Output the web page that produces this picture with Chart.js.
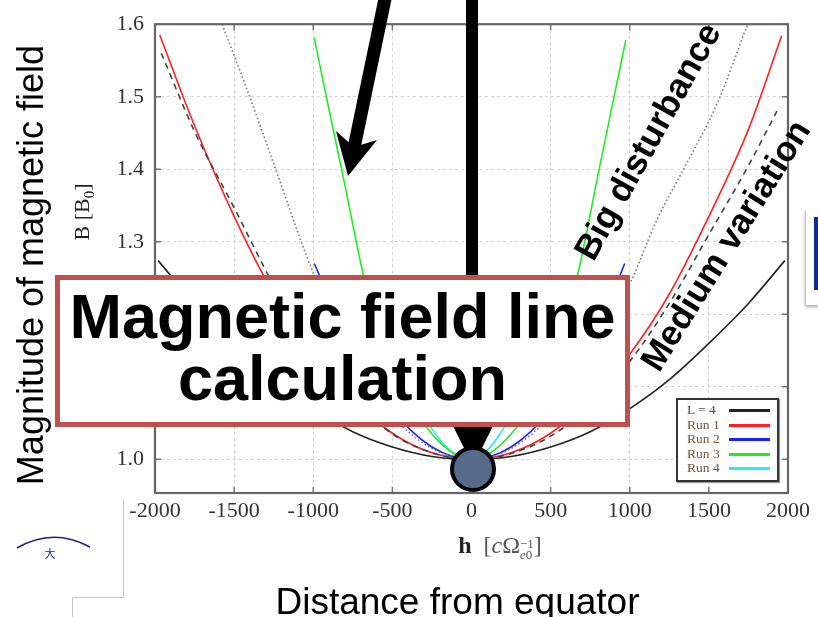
<!DOCTYPE html>
<html>
<head>
<meta charset="utf-8">
<script src="https://cdn.jsdelivr.net/npm/chart.js@4.4.1/dist/chart.umd.min.js"></script>
<style>
  body { margin: 0; background: #fff; }
  #wrap { position: relative; width: 818px; height: 617px; overflow: hidden; font-family: "Liberation Sans", Arial, sans-serif; }
  #chart { position: absolute; left: 0; top: 0; }
  svg.layer { position: absolute; left: 0; top: 0; }
  .txt { position: absolute; white-space: nowrap; line-height: 1; }
  .serif { font-family: "Liberation Serif", "Times New Roman", serif; }
  #legend { position: absolute; left: 676px; top: 398px; width: 99px; height: 80px; border: 2px solid #333;
            background: #fff; box-shadow: 1px 1px 1px #999; font-family: "Liberation Serif", serif; font-size: 13.5px; }
  #legend .row { position: absolute; left: 9px; height: 14px; width: 90px; }
  #legend .row span { position: absolute; left: 0; top: 0; line-height: 14px; }
  #legend .row i { position: absolute; left: 42px; top: 6px; width: 41px; height: 3px; }
</style>
</head>
<body>
<div id="wrap">
  <canvas id="chart" width="818" height="617"></canvas>
  <div id="legend"></div>
</div>
<script>
// field strength along the line, h in units of c/Omega_e0, B in units of B0
const hL4 = [-1980, -1750, -1500, -1250, -1000, -750, -500, -250, 0, 250, 500, 750, 1000, 1250, 1500, 1750, 1980];
const bL4 = [1.274, 1.215, 1.160, 1.110, 1.070, 1.038, 1.017, 1.004, 1.000, 1.004, 1.017, 1.038, 1.070, 1.110, 1.160, 1.215, 1.274];

const hRun1 = [-1970, -1750, -1500, -1250, -1000, -750, -500, -250, 0, 250, 500, 750, 1000, 1250, 1500, 1750, 1960];
const bRun1 = [1.585, 1.460, 1.335, 1.228, 1.145, 1.082, 1.036, 1.009, 1.000, 1.009, 1.036, 1.082, 1.145, 1.228, 1.335, 1.455, 1.584];

const hRun2 = [-994, -750, -500, -250, 0, 250, 500, 750, 968];
const bRun2 = [1.270, 1.152, 1.068, 1.017, 1.000, 1.017, 1.068, 1.152, 1.270];

const hRun3 = [-994, -900, -800, -677, -500, -250, 0, 250, 500, 665, 800, 900, 975];
const bRun3 = [1.581, 1.482, 1.378, 1.249, 1.125, 1.035, 1.000, 1.035, 1.125, 1.249, 1.393, 1.499, 1.578];

const hRun4 = [-450, -250, 0, 200, 400];
const bRun4 = [1.140, 1.042, 1.000, 1.042, 1.140];

// unlabelled reference curves
const hDashed = [-1960, -1750, -1500, -1250, -1000, -750, -500, -250, 0, 250, 500, 750, 1000, 1250, 1500, 1750, 1930];
const bDashed = [1.560, 1.452, 1.347, 1.240, 1.150, 1.082, 1.035, 1.009, 1.000, 1.008, 1.032, 1.074, 1.135, 1.215, 1.310, 1.405, 1.480];

const hDotted = [-1576, -1424, -1234, -1089, -994, -750, -500, -250, 0, 250, 500, 750, 1013, 1171, 1335, 1551, 1745];
const bDotted = [1.600, 1.513, 1.398, 1.308, 1.254, 1.140, 1.060, 1.015, 1.000, 1.015, 1.060, 1.135, 1.248, 1.330, 1.398, 1.490, 1.600];

const xTicks = [-2000, -1500, -1000, -500, 0, 500, 1000, 1500, 2000];
const yTicks = [1.0, 1.1, 1.2, 1.3, 1.4, 1.5, 1.6];

const legendLabels = ['L = 4', 'Run 1', 'Run 2', 'Run 3', 'Run 4'];
const legendColors = ['#222222', '#ff2020', '#2020ff', '#20ee20', '#20f0f0'];

const pts = (h, b) => h.map((x, i) => ({ x: x, y: b[i] }));

function series(label, h, b, color, dash, width) {
  return {
    label: label,
    data: pts(h, b),
    showLine: true,
    borderColor: color,
    borderWidth: width || 1.6,
    borderDash: dash || [],
    pointRadius: 0,
    fill: false,
    cubicInterpolationMode: 'monotone'
  };
}

const datasets = [
  series('dotted', hDotted, bDotted, '#777777', [1.5, 2.5], 1.6),
  series('dashed', hDashed, bDashed, '#444444', [6, 5], 1.6),
  series(legendLabels[0], hL4, bL4, legendColors[0]),
  series(legendLabels[1], hRun1, bRun1, legendColors[1]),
  series(legendLabels[2], hRun2, bRun2, legendColors[2]),
  series(legendLabels[3], hRun3, bRun3, legendColors[3]),
  series(legendLabels[4], hRun4, bRun4, legendColors[4])
];

// box round the plot with small inward ticks
const framePlugin = {
  id: 'frame',
  afterDatasetsDraw(chart) {
    const { ctx, chartArea: a, scales } = chart;
    ctx.save();
    ctx.strokeStyle = '#777';
    ctx.lineWidth = 1.5;
    xTicks.slice(1, -1).forEach(v => {
      const x = scales.x.getPixelForValue(v);
      ctx.beginPath();
      ctx.moveTo(x, a.bottom); ctx.lineTo(x, a.bottom - 6);
      ctx.moveTo(x, a.top); ctx.lineTo(x, a.top + 6);
      ctx.stroke();
    });
    yTicks.forEach(v => {
      const y = scales.y.getPixelForValue(v);
      ctx.beginPath();
      ctx.moveTo(a.left, y); ctx.lineTo(a.left + 6, y);
      ctx.moveTo(a.right, y); ctx.lineTo(a.right - 6, y);
      ctx.stroke();
    });
    ctx.strokeStyle = '#666';
    ctx.lineWidth = 2.2;
    ctx.strokeRect(a.left, a.top, a.right - a.left, a.bottom - a.top);
    ctx.restore();
  }
};

const tickFont = { family: '"Liberation Serif", "Times New Roman", serif', size: 22 };

new Chart(document.getElementById('chart'), {
  type: 'scatter',
  data: { datasets: datasets },
  options: {
    responsive: false,
    animation: false,
    layout: { padding: { top: 19, right: 30, left: 0, bottom: 0 } },
    plugins: { legend: { display: false }, tooltip: { enabled: false } },
    scales: {
      x: {
        min: -2000, max: 2000,
        afterFit: s => { s.height = 124; },
        afterBuildTicks: s => { s.ticks = xTicks.map(v => ({ value: v })); },
        ticks: { font: tickFont, color: '#333', padding: 5, maxRotation: 0, callback: v => String(v) },
        grid: { color: '#d4d4d4', lineWidth: 1, drawTicks: false },
        border: { display: false, dash: [3, 3] }
      },
      y: {
        min: 0.9536, max: 1.6,
        afterFit: s => { s.width = 155; },
        afterBuildTicks: s => { s.ticks = yTicks.map(v => ({ value: v })); },
        ticks: { font: tickFont, color: '#333', padding: 11, callback: v => v.toFixed(1) },
        grid: { color: '#d4d4d4', lineWidth: 1, drawTicks: false },
        border: { display: false, dash: [3, 3] }
      }
    }
  },
  plugins: [framePlugin]
});

// legend: text first, line sample after it
const legend = document.getElementById('legend');
legendLabels.forEach((lab, i) => {
  const row = document.createElement('div');
  row.className = 'row';
  row.style.top = (3 + i * 14.5) + 'px';
  row.innerHTML = '<span style="color:' + (i === 0 ? '#4a4a6a' : '#7a5030') + '">' + lab + '</span>' +
                  '<i style="background:' + legendColors[i] + '"></i>';
  legend.appendChild(row);
});
</script>

<svg class="layer" width="818" height="617" style="z-index:2">
  <!-- slanted arrow -->
  <line x1="386" y1="-6" x2="354" y2="148" stroke="#000" stroke-width="13"/>
  <polygon points="336,131 354,147 377,140 348,176" fill="#000"/>
  <!-- vertical arrow -->
  <rect x="466" y="-5" width="12" height="420" fill="#000"/>
  <polygon points="445,410 501,410 473,466" fill="#000"/>
  <!-- title box -->
  <rect x="57.5" y="277.5" width="570" height="147" fill="#fff" stroke="#c0504d" stroke-width="5"/>
  <!-- marker at the equator -->
  <circle cx="473" cy="469" r="21" fill="#566b8a" stroke="#000" stroke-width="4"/>
  <!-- page furniture -->
  <polyline points="123.5,500 123.5,597.5 72.5,597.5 72.5,617" fill="none" stroke="#c4c4c4" stroke-width="1"/>
  <path d="M17,548 Q53,527 90,547" fill="none" stroke="#1a237e" stroke-width="1.6"/>
  <text x="50" y="558" font-size="11" fill="#1a237e" font-family="Noto Sans CJK SC" text-anchor="middle">大</text>
</svg>

<div class="txt" style="z-index:3; left:806px; top:209px; width:14px; height:96px; background:#fff; box-shadow:-1px 2px 3px #aaa;"></div>
<div class="txt" style="z-index:4; left:814px; top:217px; width:5px; height:73px; background:#0d2c85;"></div>

<div class="txt" style="z-index:5; left:0; top:285px; width:685px; text-align:center; font: bold 63px/62px 'Liberation Sans', Arial, sans-serif; color:#000;">Magnetic field line<br>calculation</div>

<div class="txt" style="z-index:5; left:30.5px; top:265px; transform:translate(-50%,-50%) rotate(-90deg); font: 36px 'Liberation Sans', Arial, sans-serif; color:#000;">Magnitude of magnetic field</div>

<div class="txt serif" style="z-index:5; left:84px; top:212px; transform:translate(-50%,-50%) rotate(-90deg); font-size:22px; color:#222;">B [B<sub style="font-size:15px">0</sub>]</div>

<div class="txt serif" style="z-index:5; left:500px; top:533px; transform:translateX(-50%); font-size:24px; color:#222;"><b>h</b>&nbsp;&nbsp;<span style="color:#555">[<i>c</i>Ω<span style="display:inline-block; vertical-align:-6px; font-size:13px; line-height:11px; text-align:left;">−1<br><i>e</i>0</span>]</span></div>

<div class="txt" style="z-index:5; left:457.5px; top:580.7px; transform:translateX(-50%); font: 37px 'Liberation Sans', Arial, sans-serif; color:#000;">Distance from equator</div>

<div class="txt" style="z-index:5; left:647px; top:141px; transform:translate(-50%,-50%) rotate(-61deg); font: bold 35px 'Liberation Sans', Arial, sans-serif; color:#000;">Big disturbance</div>

<div class="txt" style="z-index:5; left:725px; top:245px; transform:translate(-50%,-50%) rotate(-58deg); font: bold 35px 'Liberation Sans', Arial, sans-serif; color:#000;">Medium variation</div>
</body>
</html>
